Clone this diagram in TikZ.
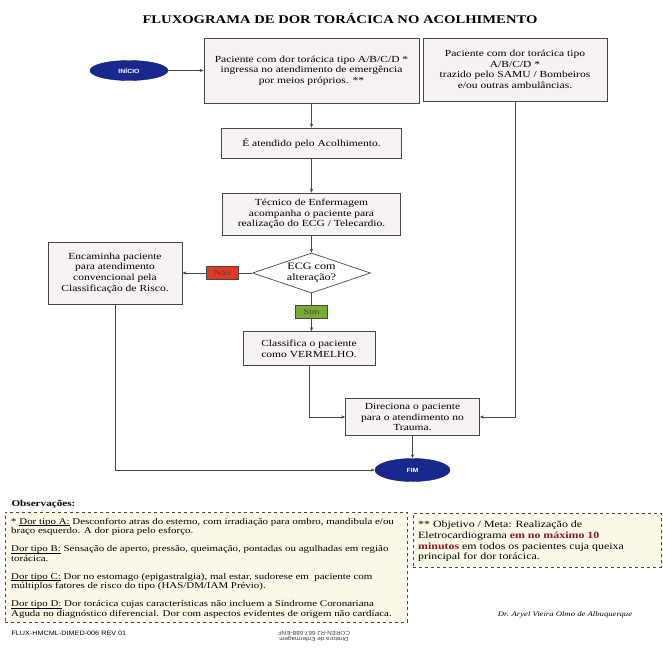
\documentclass[tikz,border=0pt]{standalone}
\usepackage{fontspec}
\setmainfont{Liberation Serif}[FakeStretch=1.24]
\setsansfont{Liberation Sans}[FakeStretch=1.15]
\usetikzlibrary{shapes.geometric, arrows.meta, positioning, calc}
\definecolor{termblue}{RGB}{24,40,140}
\definecolor{boxpink}{RGB}{247,242,244}
\definecolor{noteyellow}{RGB}{253,249,233}
\definecolor{naored}{RGB}{228,56,36}
\definecolor{simgreen}{RGB}{122,172,52}
\definecolor{metared}{RGB}{140,22,32}
\definecolor{edgegray}{RGB}{70,70,70}
\newcommand{\doruline}[1]{\setbox0\hbox{#1}\rlap{\rule[-1.4pt]{\wd0}{0.5pt}}\box0\relax}
\tikzset{
    flowbox/.style={rectangle, draw=edgegray, fill=boxpink, line width=0.7pt, align=center, font=\fontsize{9.3}{10.6}\selectfont, inner sep=2pt},
    flowterm/.style={ellipse, draw=termblue!70!black, fill=termblue, text=white, font=\sffamily\bfseries\fontsize{6}{7}\selectfont, inner sep=0pt},
    flowdecision/.style={diamond, draw=edgegray, fill=white, line width=0.7pt, align=center, font=\fontsize{9.8}{11}\selectfont, aspect=2.9, inner sep=0pt, minimum width=118pt, minimum height=40pt},
    flowtag/.style={rectangle, draw=edgegray, fill=#1, font=\fontsize{8}{9}\selectfont, minimum width=32pt, minimum height=13pt, inner sep=1pt},
    flowarrow/.style={-{Stealth[length=4pt,width=3.2pt]}, edgegray, line width=0.6pt},
    notebox/.style={rectangle, draw=edgegray, dashed, fill=noteyellow, line width=0.6pt}
}

\begin{document}
\begin{tikzpicture}[x=1pt, y=1pt]
\useasboundingbox[fill=white] (0,0) rectangle (663,-656);

\node[font=\bfseries\fontsize{11.8}{13}\selectfont] (titulo) at (340,-18) {FLUXOGRAMA DE DOR TORÁCICA NO ACOLHIMENTO};

% flow
\node[flowterm, minimum width=78pt, minimum height=20pt] (inicio) at (129,-70.5) {INÍCIO};
\node[flowbox, minimum width=215pt, minimum height=65pt] (b1) at (311.5,-70.5) {Paciente com dor torácica tipo A/B/C/D *\\ingressa no atendimento de emergência\\por meios próprios. **};
\node[flowbox, minimum width=184pt, minimum height=63pt] (b2) at (515,-69.5) {Paciente com dor torácica tipo\\A/B/C/D *\\trazido pelo SAMU / Bombeiros\\e/ou outras ambulâncias.};
\node[flowbox, minimum width=180pt, minimum height=30pt] (atendido) at (311.5,-143) {É atendido pelo Acolhimento.};
\node[flowbox, minimum width=178pt, minimum height=42pt] (tecnico) at (311.5,-214) {Técnico de Enfermagem\\acompanha o paciente para\\realização do ECG / Telecardio.};
\node[flowdecision] (ecg) at (311.5,-273) {ECG com\\alteração?};
\node[flowbox, minimum width=134pt, minimum height=62pt] (encaminha) at (115,-273) {Encaminha paciente\\para atendimento\\convencional pela\\Classificação de Risco.};
\node[flowbox, minimum width=132pt, minimum height=34pt] (classifica) at (309,-348.5) {Classifica o paciente\\como VERMELHO.};
\node[flowbox, minimum width=134pt, minimum height=37pt] (direciona) at (412.5,-417) {Direciona o paciente\\para o atendimento no\\Trauma.};
\node[flowterm, minimum width=75pt, minimum height=23pt] (fim) at (412.5,-470) {FIM};

\draw[flowarrow] (inicio.east) -- (inicio.east -| b1.west);
\draw[flowarrow] (b1.south -| atendido.north) -- (atendido.north);
\draw[flowarrow] (atendido) -- (tecnico);
\draw[flowarrow] (tecnico) -- (ecg);
\draw[flowarrow] (ecg.west) -- node[flowtag=naored, pos=0.43] (nao) {Não} (encaminha.east);
\draw[flowarrow] (ecg.south) -- node[flowtag=simgreen] (sim) {Sim} (ecg.south |- classifica.north);
\draw[flowarrow] (classifica.south) |- (direciona.west);
\draw[flowarrow] (b2.south) |- (direciona.east);
\draw[flowarrow] (direciona) -- (fim);
\draw[flowarrow] (encaminha.south) |- (fim.west);

% notes
\node[anchor=west, font=\bfseries\fontsize{9}{10}\selectfont] (obs) at (8,-504) {Observações:};
\node[notebox, anchor=north west, minimum width=402pt, minimum height=110pt] (obsbox) at (5,-512) {};
\node[anchor=north west, align=left, inner sep=0pt, font=\fontsize{8.8}{9.5}\selectfont] (obstext) at (11,-518) {%
* \doruline{Dor tipo A:} Desconforto atras do esterno, com irradiação para ombro, mandibula e/ou\\
braço esquerdo. A dor piora pelo esforço.\\[8.5pt]
\doruline{Dor tipo B:} Sensação de aperto, pressão, queimação, pontadas ou agulhadas em região\\
torácica.\\[8.5pt]
\doruline{Dor tipo C:} Dor no estomago (epigastralgia), mal estar, sudorese em \ paciente com\\
múltiplos fatores de risco do tipo (HAS/DM/IAM Prévio).\\[8.5pt]
\doruline{Dor tipo D:} Dor torácica cujas características não incluem a Síndrome Coronariana\\
Aguda no diagnóstico diferencial. Dor com aspectos evidentes de origem não cardíaca.};

\node[notebox, anchor=north west, minimum width=248pt, minimum height=54pt] (metabox) at (413,-513) {};
\node[anchor=north west, align=left, inner sep=0pt, font=\fontsize{9.6}{10.7}\selectfont] (metatext) at (418,-521) {%
** Objetivo / Meta: Realização de\\
Eletrocardiograma \textcolor{metared}{\textbf{em no máximo 10}}\\
\textcolor{metared}{\textbf{minutos}} em todos os pacientes cuja queixa\\
principal for dor torácica.};

% footer
\node[anchor=west, font=\sffamily\fontsize{6.3}{7}\selectfont] (codigo) at (8,-633) {FLUX-HMCML-DIMED-006 REV 01};
\node[rotate=180, align=center, font=\sffamily\fontsize{5.5}{6}\selectfont, text=black!75] (carimbo) at (314,-636) {Diretora de Enfermagem\\COREN-RJ 667.688-ENF};
\node[font=\itshape\fontsize{7}{8}\selectfont] (assinatura) at (565,-615) {Dr. Aryel Vieira Olmo de Albuquerque};
\end{tikzpicture}
\end{document}
